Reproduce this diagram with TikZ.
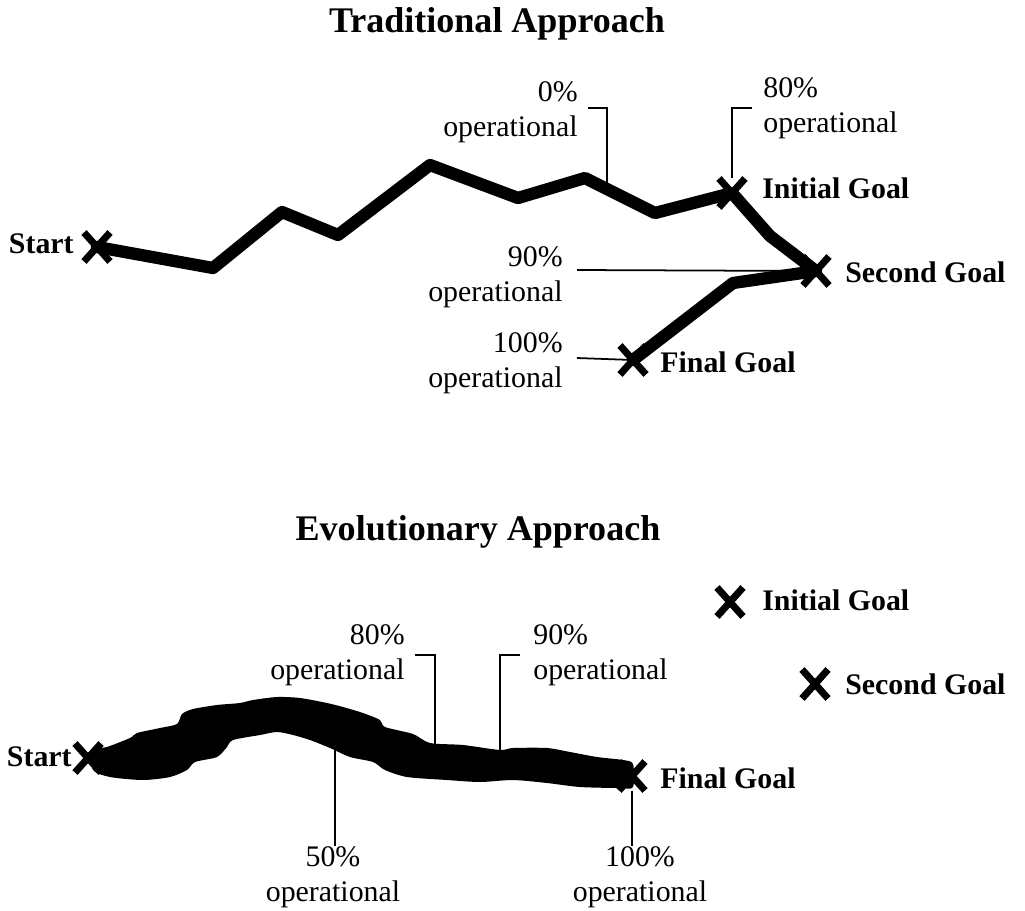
\documentclass[tikz,border=0pt]{standalone}
\usepackage{fontspec}
\setmainfont{Liberation Serif}
\usetikzlibrary{positioning, shapes.misc}

\begin{document}
\begin{tikzpicture}[
x=0.02cm, y=-0.02cm,
goal/.style={cross out, draw, line width=4pt, minimum width=0.38cm, minimum height=0.44cm, inner sep=0pt},
goallabel/.style={font=\fontsize{17}{20}\selectfont\bfseries, inner sep=0pt},
title/.style={font=\fontsize{20.5}{24}\selectfont\bfseries},
note/.style={font=\fontsize{17}{20}\selectfont, inner sep=0pt},
trail/.style={line width=7pt, line join=round, line cap=round},
lead/.style={line width=1pt}
]
\useasboundingbox (0,0) rectangle (1025,910);

% Traditional approach
\node[title] (tradTitle) at (497,24) {Traditional Approach};

\node[goal] (tStart) at (97,247) {};
\node[goal] (tInit) at (732,193) {};
\node[goal] (tSecond) at (816,271) {};
\node[goal] (tFinal) at (633,360) {};

\node[goallabel, anchor=east] (tStartLbl) at (74,244) {Start};
\node[goallabel, anchor=west] (tInitLbl) at (762,188) {Initial Goal};
\node[goallabel, anchor=west] (tSecondLbl) at (845,272) {Second Goal};
\node[goallabel, anchor=west] (tFinalLbl) at (660,362) {Final Goal};

\draw[trail] (tStart.center) -- (213,268) -- (282,212) -- (338,235) -- (430,165)
  -- (518,198) -- (585,178) -- (655,213) -- (tInit.center) -- (770,236)
  -- (tSecond.center) -- (733,283) -- (tFinal.center);

\node[note, align=right, anchor=east] (tZeroLbl) at (578,112) {0\%\\operational};
\node[note, align=left, anchor=west] (tEightyLbl) at (763,108) {80\%\\operational};
\node[note, align=right, anchor=east] (tNinetyLbl) at (563,277) {90\%\\operational};
\node[note, align=right, anchor=east] (tHundredLbl) at (563,363) {100\%\\operational};

\coordinate (tZeroPt) at (607,185);
\coordinate (tZeroEnd) at (588,108);
\coordinate (tEightyEnd) at (752,108);
\coordinate (tNinetyEnd) at (577,270);
\coordinate (tHundredEnd) at (577,358);

\draw[lead] (tZeroEnd) -| (tZeroPt);
\draw[lead] (tEightyEnd) -| (tInit.north);
\draw[lead] (tNinetyEnd) -- (tSecond.center);
\draw[lead] (tHundredEnd) -- (tFinal.center);

% Evolutionary approach
\node[title] (evoTitle) at (478,532) {Evolutionary Approach};

\fill plot[smooth cycle, tension=0.45] coordinates {
  (93,750) (107,747) (130,738) (137,733) (160,728) (177,724) (182,714)
  (193,709) (217,705) (240,703) (253,700) (277,697) (300,698) (327,703)
  (343,707) (363,713) (380,720) (385,727) (413,734) (430,743) (463,745)
  (500,750) (513,748) (547,748) (570,752) (597,757) (623,760) (633,764)
  (633,787) (620,788) (580,787) (547,783) (513,780) (480,782) (447,780)
  (407,777) (385,770) (373,762) (350,757) (330,748) (310,740) (293,735)
  (277,732) (260,735) (233,740) (227,747) (217,757) (195,762) (187,770)
  (170,777) (143,780) (110,777) (93,770)};

\node[goal] (bStart) at (88,758) {};
\node[goal] (bFinal) at (632,776) {};
\node[goal] (bInit) at (730,602) {};
\node[goal] (bSecond) at (815,684) {};

\node[goallabel, anchor=east] (bStartLbl) at (72,757) {Start};
\node[goallabel, anchor=west] (bInitLbl) at (762,600) {Initial Goal};
\node[goallabel, anchor=west] (bSecondLbl) at (845,684) {Second Goal};
\node[goallabel, anchor=west] (bFinalLbl) at (660,778) {Final Goal};

\node[note, align=right, anchor=east] (bEightyLbl) at (405,655) {80\%\\operational};
\node[note, align=left, anchor=west] (bNinetyLbl) at (533,655) {90\%\\operational};
\node[note, align=center] (bFiftyLbl) at (333,877) {50\%\\operational};
\node[note, align=center] (bHundredLbl) at (640,877) {100\%\\operational};

\coordinate (bEightyPt) at (435,745);
\coordinate (bEightyEnd) at (415,655);
\coordinate (bNinetyPt) at (500,750);
\coordinate (bNinetyEnd) at (520,655);
\coordinate (bFiftyPt) at (335,745);

\draw[lead] (bEightyEnd) -| (bEightyPt);
\draw[lead] (bNinetyEnd) -| (bNinetyPt);
\draw[lead] (bFiftyPt) -- (bFiftyPt |- bFiftyLbl.north);
\draw[lead] (bFinal.south) -- (bFinal |- bHundredLbl.north);

\end{tikzpicture}
\end{document}
